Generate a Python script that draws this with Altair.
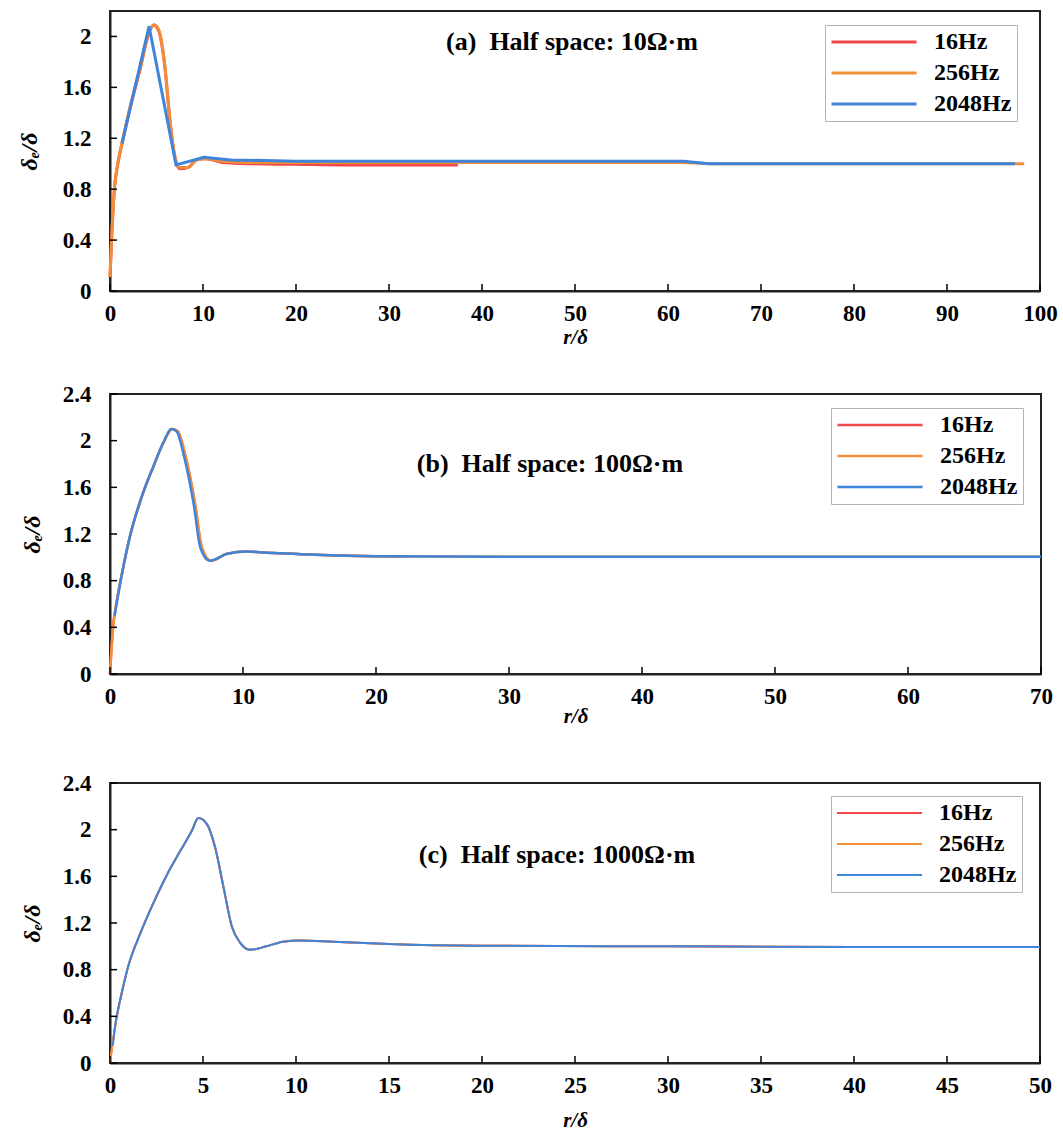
import altair as alt
import pandas as pd

SERIF = "Liberation Serif"
FREQS = ["16Hz", "256Hz", "2048Hz"]
COLORS = ["#F04848", "#F28E38", "#3E84DA"]

# ---------------- (a) half space 10 ohm-m ----------------
a_r_16 = [0, 0.2, 0.5, 0.8, 1.3, 2.1, 3.2, 4.3, 4.7, 5.2, 5.9, 6.4, 6.9, 7.5, 8.4,
          9.3, 10.3, 12.1, 15, 20, 25, 30, 37.4]
a_v_16 = [0.11, 0.45, 0.82, 0.98, 1.16, 1.42, 1.73, 2.05, 2.09, 2.05, 1.76, 1.37, 1.08,
          0.96, 0.97, 1.03, 1.04, 1.01, 1.0, 0.995, 0.99, 0.99, 0.99]
a_r_256 = [0, 0.2, 0.5, 0.8, 1.3, 2.1, 3.2, 4.3, 4.8, 5.3, 5.9, 6.4, 6.9, 7.5, 8.4,
           9.3, 10.3, 12.1, 15, 20, 30, 40, 50, 61.5, 64.5, 80, 98.3]
a_v_256 = [0.11, 0.46, 0.83, 0.99, 1.17, 1.43, 1.74, 2.06, 2.09, 2.04, 1.77, 1.38, 1.09,
           0.97, 0.97, 1.03, 1.04, 1.02, 1.01, 1.01, 1.01, 1.01, 1.01, 1.01, 1.0, 1.0, 1.0]
a_r_2048 = [1.3, 4.2, 7.1, 10.1, 13.0, 20, 30, 40, 50, 61.7, 64.4, 80, 97.3]
a_v_2048 = [1.16, 2.08, 0.99, 1.05, 1.03, 1.02, 1.02, 1.02, 1.02, 1.02, 1.0, 1.0, 1.0]

# ---------------- (b) half space 100 ohm-m ----------------
b_r_16 = [0, 0.25, 0.4, 0.9, 1.5, 2.3, 3.3, 4.0, 4.7, 5.1, 5.7, 6.4, 6.9, 7.6, 8.8,
          10.3, 11.8, 13.8, 16, 20, 22.5]
b_v_16 = [0, 0.43, 0.55, 0.86, 1.18, 1.49, 1.79, 1.98, 2.10, 2.08, 1.85, 1.45, 1.08,
          0.97, 1.03, 1.05, 1.04, 1.03, 1.02, 1.01, 1.01]
b_r_256 = [0, 0.25, 0.4, 0.9, 1.5, 2.3, 3.3, 4.0, 4.7, 5.1, 5.7, 6.4, 6.9, 7.6, 8.8,
           10.3, 11.8, 13.8, 16, 20, 30, 50, 70]
b_v_256 = [0, 0.42, 0.55, 0.86, 1.18, 1.49, 1.79, 1.98, 2.10, 2.08, 1.86, 1.46, 1.09,
           0.97, 1.03, 1.05, 1.04, 1.03, 1.02, 1.01, 1.005, 1.005, 1.005]
b_r_2048 = [0.35, 0.9, 1.5, 2.3, 3.3, 4.0, 4.6, 5.0, 5.6, 6.3, 6.8, 7.5, 8.8,
            10.3, 11.8, 13.8, 16, 20, 30, 50, 70]
b_v_2048 = [0.5, 0.86, 1.18, 1.49, 1.79, 1.98, 2.10, 2.08, 1.85, 1.45, 1.08,
            0.97, 1.03, 1.05, 1.04, 1.03, 1.02, 1.01, 1.005, 1.005, 1.005]

# ---------------- (c) half space 1000 ohm-m ----------------
c_r_16 = [0, 0.27, 0.63, 0.98, 1.6, 2.3, 3.05, 3.75, 4.4, 4.75, 5.2, 5.65, 6.1, 6.55,
          7.0, 7.55, 8.4, 9.3, 10.2, 12, 15, 20, 30, 40, 50]
c_v_16 = [0, 0.31, 0.60, 0.83, 1.10, 1.36, 1.61, 1.81, 1.99, 2.10, 2.05, 1.85, 1.51, 1.17,
          1.03, 0.97, 1.0, 1.04, 1.05, 1.04, 1.02, 1.005, 1.0, 0.995, 0.995]
c_r_256 = c_r_16
c_v_256 = c_v_16
c_r_2048 = [0.15, 0.27, 0.63, 0.98, 1.6, 2.3, 3.05, 3.75, 4.4, 4.75, 5.2, 5.65, 6.1, 6.55,
            7.0, 7.55, 8.4, 9.3, 10.2, 12, 15, 20, 30, 40, 50]
c_v_2048 = [0.15, 0.31, 0.60, 0.83, 1.10, 1.36, 1.61, 1.81, 1.99, 2.10, 2.05, 1.85, 1.51, 1.17,
            1.03, 0.97, 1.0, 1.04, 1.05, 1.04, 1.02, 1.005, 1.0, 0.995, 0.995]

Y_TICKS_A = [0, 0.4, 0.8, 1.2, 1.6, 2.0]
Y_TICKS_BC = [0, 0.4, 0.8, 1.2, 1.6, 2.0, 2.4]
X_TICKS_A = list(range(0, 101, 10))
X_TICKS_B = list(range(0, 71, 10))
X_TICKS_C = list(range(0, 51, 5))


def long_frame(pairs):
    rows = []
    for freq, (rs, vs) in zip(FREQS, pairs):
        for i, (r, v) in enumerate(zip(rs, vs)):
            rows.append({"r": r, "ratio": v, "freq": freq, "i": i})
    return pd.DataFrame(rows)


def panel(pairs, x_max, x_ticks, y_max, y_ticks, label, width, height,
          stroke_w, legend_xy, label_xy, smooth_blue=True, y_title_pad=16,
          x_title_pad=0, bottom_room=None):
    df = long_frame(pairs)
    xs = alt.Scale(domain=[0, x_max], nice=False, zero=True)
    ys = alt.Scale(domain=[0, y_max], nice=False, zero=True)
    color = alt.Color(
        "freq:N",
        scale=alt.Scale(domain=FREQS, range=COLORS),
        legend=alt.Legend(
            title=None, orient="none", legendX=legend_xy[0], legendY=legend_xy[1],
            symbolType="stroke", symbolSize=85 * 85, symbolStrokeWidth=stroke_w,
            labelFont=SERIF, labelFontSize=24, labelFontWeight="bold", labelColor="black",
            strokeColor="#b4b4b4", fillColor="white", padding=5, rowPadding=7,
            clipHeight=24, labelOffset=16, symbolOffset=0,
        ),
    )
    x_enc = alt.X("r:Q", scale=xs, axis=alt.Axis(
        values=x_ticks, title="r/δ", titlePadding=x_title_pad, labelPadding=11,
        titleFontSize=21, labelFlush=False))
    y_enc = alt.Y("ratio:Q", scale=ys, axis=alt.Axis(
        values=y_ticks, title="δₑ/δ", format="~g", labelPadding=19,
        titlePadding=y_title_pad))

    warm = df[df["freq"] != "2048Hz"]
    cool = df[df["freq"] == "2048Hz"]
    lines_warm = alt.Chart(warm).mark_line(
        strokeWidth=stroke_w, interpolate="monotone"
    ).encode(x=x_enc, y=y_enc, color=color, order="i:Q")
    lines_cool = alt.Chart(cool).mark_line(
        strokeWidth=stroke_w, interpolate="monotone" if smooth_blue else "linear"
    ).encode(x="r:Q", y="ratio:Q", color=color, order="i:Q")

    # inward tick marks on the bottom and left edges
    xt = alt.Chart(pd.DataFrame({"r": x_ticks})).mark_rule(
        color="black", strokeWidth=1.5
    ).encode(x="r:Q", y=alt.value(height), y2=alt.value(height - 7))
    yt = alt.Chart(pd.DataFrame({"ratio": y_ticks})).mark_rule(
        color="black", strokeWidth=1.5
    ).encode(y="ratio:Q", x=alt.value(0), x2=alt.value(7))

    caption = alt.Chart(pd.DataFrame({"s": [label]})).mark_text(
        font=SERIF, fontSize=26, fontWeight="bold", color="black",
        align="center", baseline="middle"
    ).encode(text="s:N", x=alt.value(label_xy[0]), y=alt.value(label_xy[1]))

    layers = [lines_warm, lines_cool, xt, yt, caption]
    if bottom_room:
        # transparent spacer that reserves extra room under the x-axis title
        layers.append(alt.Chart(pd.DataFrame({"s": [0]})).mark_rule(
            strokeOpacity=0, opacity=0
        ).encode(x=alt.value(0), y=alt.value(height), y2=alt.value(height + bottom_room)))

    return alt.layer(*layers).properties(width=width, height=height)


NB = "\u00a0"
pa = panel([(a_r_16, a_v_16), (a_r_256, a_v_256), (a_r_2048, a_v_2048)],
           100, X_TICKS_A, 2.2, Y_TICKS_A, f"(a){NB} Half space: 10Ω·m",
           930, 280, 3, (715, 14), (462, 31), smooth_blue=False,
           y_title_pad=21, x_title_pad=1)
pb = panel([(b_r_16, b_v_16), (b_r_256, b_v_256), (b_r_2048, b_v_2048)],
           70, X_TICKS_B, 2.4, Y_TICKS_BC, f"(b){NB} Half space: 100Ω·m",
           931, 280, 2.5, (721, 14), (440, 70), y_title_pad=18, x_title_pad=-3,
           bottom_room=62)
pc = panel([(c_r_16, c_v_16), (c_r_256, c_v_256), (c_r_2048, c_v_2048)],
           50, X_TICKS_C, 2.4, Y_TICKS_BC, f"(c){NB} Half space: 1000Ω·m",
           930, 280, 2, (721, 13), (447, 72), y_title_pad=18, x_title_pad=12)

chart = alt.concat(pa, pb, pc, columns=1, spacing=34, align="none", bounds="full").resolve_scale(
    color="independent", x="independent", y="independent"
).resolve_legend(color="independent").properties(
    padding={"left": 16, "top": 10, "right": 0, "bottom": 0},
    background="white",
).configure_view(
    stroke="#222", strokeWidth=2
).configure_axis(
    labelFont=SERIF, labelFontSize=23, labelFontWeight="bold", labelColor="black",
    titleFont=SERIF, titleFontSize=24, titleFontWeight="bold", titleFontStyle="italic",
    titleColor="black", domainColor="#222", domainWidth=2, ticks=False, tickSize=0,
    grid=False,
)

chart.save("out.html", embed_options={"renderer": "svg", "actions": False})
